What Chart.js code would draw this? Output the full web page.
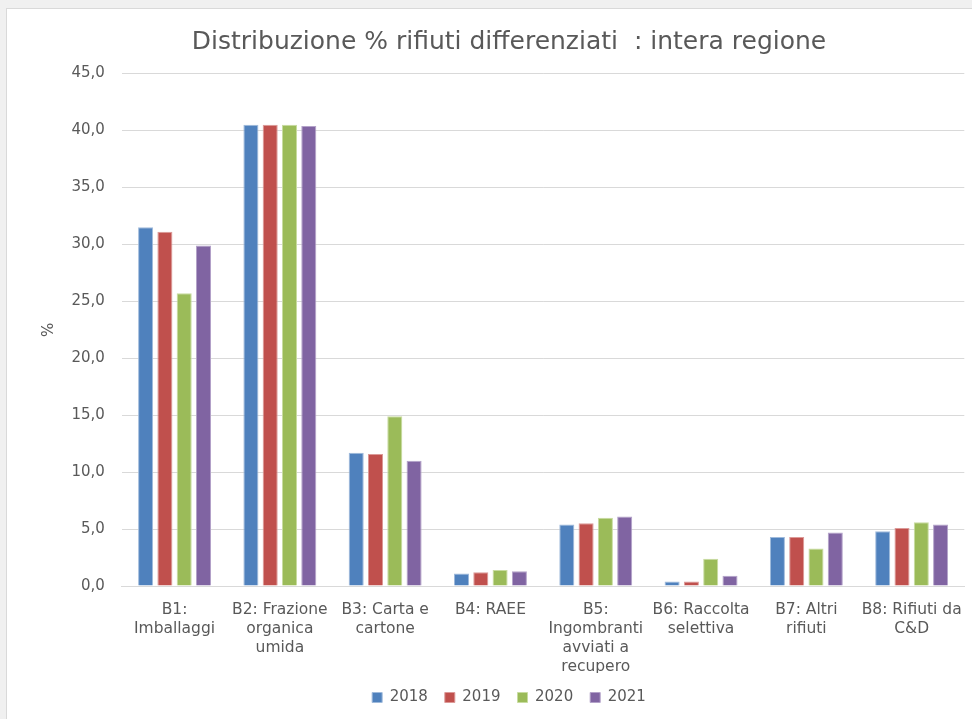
<!DOCTYPE html>
<html>
<head>
<meta charset="utf-8">
<script src="https://cdn.jsdelivr.net/npm/chart.js@4.4.1/dist/chart.umd.min.js"></script>
<style>
  html, body { margin: 0; padding: 0; background: #f0f0f0; width: 972px; height: 719px; overflow: hidden; }
  #frame { position: absolute; left: 6px; top: 8px; width: 980px; height: 720px; background: #fff; border-left: 1px solid #d9d9d9; border-top: 1px solid #d9d9d9; }
  #wrap { position: absolute; left: 7px; top: 9px; width: 965px; height: 710px; }
</style>
</head>
<body>
<div id="frame"></div>
<div id="wrap"><canvas id="c"></canvas></div>
<script>
const categories = [
  ["B1:", "Imballaggi"],
  ["B2: Frazione", "organica", "umida"],
  ["B3: Carta e", "cartone"],
  ["B4: RAEE"],
  ["B5:", "Ingombranti", "avviati a", "recupero"],
  ["B6: Raccolta", "selettiva"],
  ["B7: Altri", "rifiuti"],
  ["B8: Rifiuti da", "C&D"]
];
const years = ["2018", "2019", "2020", "2021"];
const values2018 = [31.5, 40.5, 11.7, 1.1, 5.4, 0.4, 4.3, 4.8];
const values2019 = [31.1, 40.5, 11.6, 1.2, 5.5, 0.4, 4.3, 5.1];
const values2020 = [25.7, 40.5, 14.9, 1.4, 6.0, 2.4, 3.3, 5.6];
const values2021 = [29.9, 40.4, 11.0, 1.3, 6.1, 0.9, 4.7, 5.4];
const yTicks = [0, 5, 10, 15, 20, 25, 30, 35, 40, 45];
const titleText = "Distribuzione % rifiuti differenziati  : intera regione";
const yTitle = "%";

const colors = ["#4f81bd", "#c0504d", "#9bbb59", "#8064a2"];
const borders = ["#9fbadb", "#dc9a98", "#c8dca0", "#b3a2c9"];
const seriesValues = [values2018, values2019, values2020, values2021];

const FONT = "'DejaVu Sans', sans-serif";
const GREY = "#595959";

new Chart(document.getElementById("c"), {
  type: "bar",
  data: {
    labels: categories,
    datasets: years.map((y, i) => ({
      label: y,
      data: seriesValues[i],
      backgroundColor: colors[i],
      borderColor: borders[i],
      borderWidth: 1,
      categoryPercentage: 0.733,
      barPercentage: 0.78
    }))
  },
  options: {
    responsive: true,
    maintainAspectRatio: false,
    animation: false,
    layout: { padding: { left: 46.7, right: 7.7, top: 10, bottom: 4 } },
    plugins: {
      title: {
        display: true,
        text: titleText,
        color: GREY,
        font: { family: FONT, size: 25, weight: "normal" },
        padding: { top: 8, bottom: 16.6 }
      },
      legend: {
        position: "bottom",
        labels: {
          color: GREY,
          font: { family: FONT, size: 15 },
          boxWidth: 10,
          boxHeight: 10,
          padding: 17
        }
      },
      tooltip: { enabled: false }
    },
    scales: {
      x: {
        grid: { display: false, drawTicks: false },
        border: { display: true, color: "#d9d9d9", width: 1 },
        afterFit: (scale) => {
          scale.height = scale.height - 17;
          scale.paddingLeft = 0;
          scale.paddingRight = 0;
        },
        ticks: {
          color: GREY,
          font: { family: FONT, size: 15.5, lineHeight: "19px" },
          padding: 14,
          maxRotation: 0,
          autoSkip: false
        }
      },
      y: {
        min: 0,
        max: 45,
        afterBuildTicks: (scale) => { scale.ticks = yTicks.map(v => ({ value: v })); },
        afterFit: (scale) => { scale.width = 68.2; },
        grid: { color: "#d9d9d9", drawTicks: false, lineWidth: 1 },
        border: { display: false },
        ticks: {
          color: GREY,
          font: { family: FONT, size: 15 },
          padding: 17,
          callback: (v) => Number(v).toFixed(1).replace(".", ",")
        },
        title: {
          display: true,
          text: yTitle,
          color: GREY,
          font: { family: FONT, size: 15 },
          padding: { top: -14, bottom: 0 }
        }
      }
    }
  }
});
</script>
</body>
</html>
